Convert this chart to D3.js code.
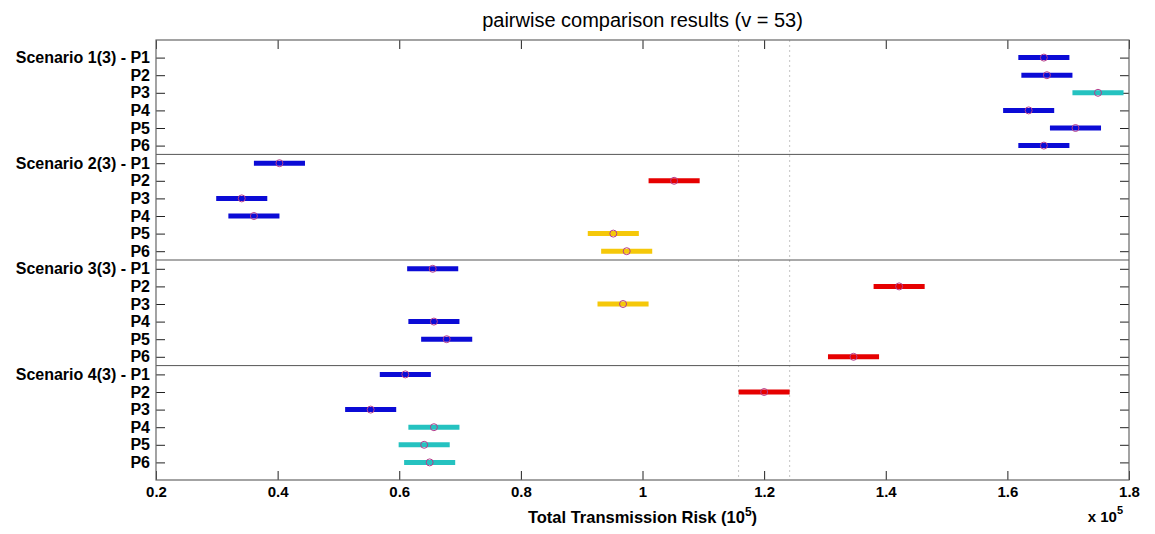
<!DOCTYPE html>
<html>
<head>
<meta charset="utf-8">
<script src="https://cdn.jsdelivr.net/npm/d3@7"></script>
<style>
  body { margin: 0; background: #fff; }
  text { font-family: "Liberation Sans", Arial, sans-serif; }
</style>
</head>
<body>
<div id="chart"></div>
<script>
// group names and the estimated means (x 10^5) for each group
const scenarios = ["Scenario 1(3)", "Scenario 2(3)", "Scenario 3(3)", "Scenario 4(3)"];
const periods = ["P1", "P2", "P3", "P4", "P5", "P6"];

const scenario1Means = [1.660, 1.665, 1.749, 1.635, 1.712, 1.660];
const scenario2Means = [0.403, 1.052, 0.341, 0.361, 0.952, 0.974];
const scenario3Means = [0.655, 1.422, 0.968, 0.657, 0.678, 1.347];
const scenario4Means = [0.610, 1.200, 0.553, 0.657, 0.641, 0.650];

// colour class of each interval
const scenario1Class = ["blue", "blue", "cyan", "blue", "blue", "blue"];
const scenario2Class = ["blue", "red", "blue", "blue", "yellow", "yellow"];
const scenario3Class = ["blue", "red", "yellow", "blue", "blue", "red"];
const scenario4Class = ["blue", "red", "blue", "cyan", "cyan", "cyan"];

const halfWidth = 0.042;               // comparison interval half width
const selected = {scenario: 3, period: 1}; // Scenario 4 - P2, dotted guide lines

const xTicks = [0.2, 0.4, 0.6, 0.8, 1, 1.2, 1.4, 1.6, 1.8];

const colors = {blue: "#0b0bd6", red: "#e60000", yellow: "#f5c80a", cyan: "#25c2c0"};

const W = 1155, H = 534;
const plot = {left: 156, right: 1129, top: 40, bottom: 480};

const allMeans = [scenario1Means, scenario2Means, scenario3Means, scenario4Means];
const allClass = [scenario1Class, scenario2Class, scenario3Class, scenario4Class];

const rows = [];
scenarios.forEach((s, si) => {
    periods.forEach((p, pi) => {
        rows.push({
            row: si * 6 + pi + 1,
            label: pi === 0 ? `${s} - ${p}` : p,
            mean: allMeans[si][pi],
            cls: allClass[si][pi],
            selected: si === selected.scenario && pi === selected.period
        });
    });
});

const svg = d3.select("#chart")
    .append("svg")
    .attr("width", W)
    .attr("height", H);

const x = d3.scaleLinear().domain([0.2, 1.8]).range([plot.left, plot.right]);
const y = d3.scaleLinear().domain([0, 25]).range([plot.top, plot.bottom]);

// dotted guide lines at the selected group's interval
const sel = rows.find(d => d.selected);
svg.selectAll(".guide")
    .data([sel.mean - halfWidth, sel.mean + halfWidth])
    .enter().append("line")
    .attr("x1", d => x(d)).attr("x2", d => x(d))
    .attr("y1", plot.top).attr("y2", plot.bottom)
    .attr("stroke", "#c4c4c4")
    .attr("stroke-width", 1)
    .attr("stroke-dasharray", "2,3");

// separators between scenarios
svg.selectAll(".sep")
    .data([6.5, 12.5, 18.5])
    .enter().append("line")
    .attr("x1", plot.left).attr("x2", plot.right)
    .attr("y1", d => y(d)).attr("y2", d => y(d))
    .attr("stroke", "#555")
    .attr("stroke-width", 1);

// axes, ticks pointing inward like matlab
const fmt = d => d3.format("")(d);
svg.append("g")
    .attr("class", "xaxis")
    .attr("transform", `translate(0,${plot.bottom})`)
    .call(d3.axisBottom(x).tickValues(xTicks).tickFormat(fmt).tickSizeInner(-9).tickSizeOuter(0).tickPadding(6));
svg.append("g")
    .attr("transform", `translate(0,${plot.top})`)
    .call(d3.axisTop(x).tickValues(xTicks).tickFormat("").tickSizeInner(-9).tickSizeOuter(0));
svg.append("g")
    .attr("class", "yaxis")
    .attr("transform", `translate(${plot.left},0)`)
    .call(d3.axisLeft(y).tickValues(rows.map(d => d.row)).tickFormat((d, i) => rows[i].label)
        .tickSizeInner(-9).tickSizeOuter(0).tickPadding(6));
svg.append("g")
    .attr("transform", `translate(${plot.right},0)`)
    .call(d3.axisRight(y).tickValues(rows.map(d => d.row)).tickFormat("").tickSizeInner(-9).tickSizeOuter(0));

svg.selectAll(".domain").remove();
svg.selectAll(".tick line").attr("stroke", "#222");
svg.selectAll(".xaxis text, .yaxis text")
    .attr("fill", "#000")
    .style("font-weight", "bold")
    .style("font-family", '"Liberation Sans", Arial, sans-serif');
svg.selectAll(".xaxis text").style("font-size", "15px");
svg.selectAll(".yaxis text").style("font-size", "16px");

svg.append("rect")
    .attr("x", plot.left).attr("y", plot.top)
    .attr("width", plot.right - plot.left)
    .attr("height", plot.bottom - plot.top)
    .attr("fill", "none")
    .attr("stroke", "#666")
    .attr("stroke-width", 1.2);

// intervals
svg.selectAll(".ci")
    .data(rows)
    .enter().append("line")
    .attr("x1", d => x(d.mean - halfWidth))
    .attr("x2", d => x(d.mean + halfWidth))
    .attr("y1", d => y(d.row)).attr("y2", d => y(d.row))
    .attr("stroke", d => colors[d.cls])
    .attr("stroke-width", 5);

svg.selectAll(".mean")
    .data(rows)
    .enter().append("circle")
    .attr("cx", d => x(d.mean))
    .attr("cy", d => y(d.row))
    .attr("r", 3.5)
    .attr("fill", "none")
    .attr("stroke", "#b43c8c")
    .attr("stroke-width", 1);

// title and labels
svg.append("text")
    .attr("x", (plot.left + plot.right) / 2)
    .attr("y", 27)
    .attr("text-anchor", "middle")
    .style("font-size", "20px")
    .text("pairwise comparison results (v = 53)");

const xlab = svg.append("text")
    .attr("x", (plot.left + plot.right) / 2)
    .attr("y", 523)
    .attr("text-anchor", "middle")
    .style("font-size", "16.5px")
    .style("font-weight", "bold");
xlab.append("tspan").text("Total Transmission Risk (10");
xlab.append("tspan").attr("dy", -7).style("font-size", "12px").text("5");
xlab.append("tspan").attr("dy", 7).text(")");

const mult = svg.append("text")
    .attr("x", 1123)
    .attr("y", 522)
    .attr("text-anchor", "end")
    .style("font-size", "15px")
    .style("font-weight", "bold");
mult.append("tspan").text("x 10");
mult.append("tspan").attr("dy", -8).style("font-size", "11px").text("5");
</script>
</body>
</html>
